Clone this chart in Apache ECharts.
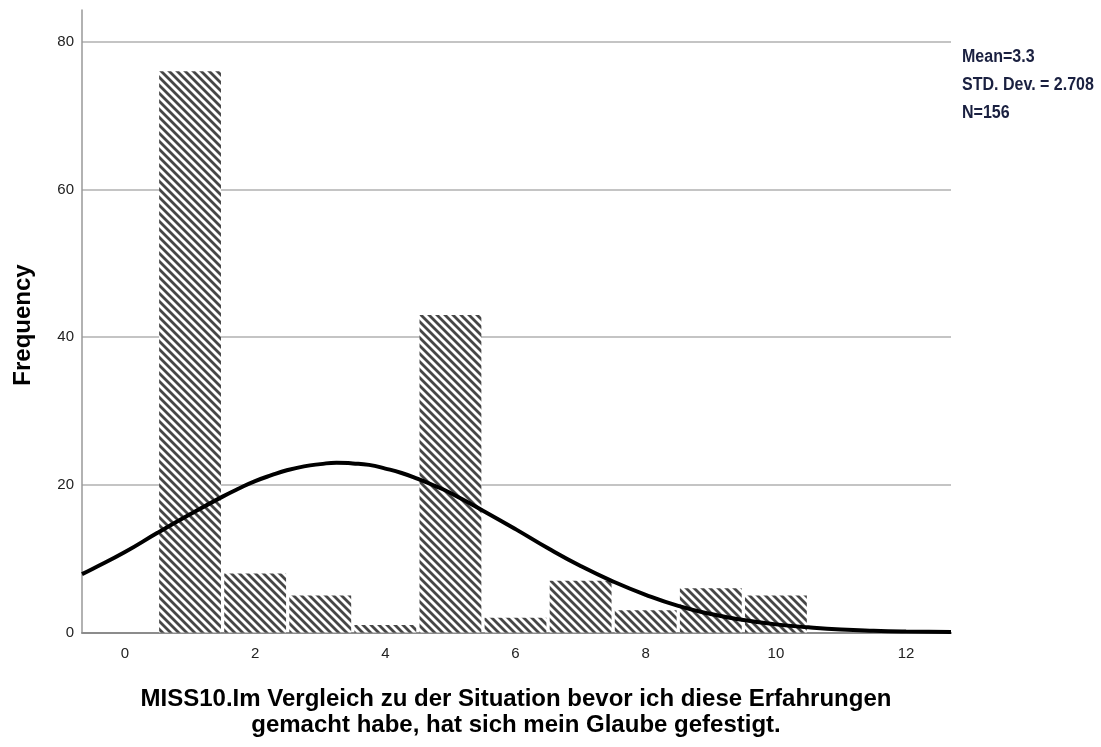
<!DOCTYPE html>
<html>
<head>
<meta charset="utf-8">
<script src="https://cdn.jsdelivr.net/npm/echarts@6/dist/echarts.min.js"></script>
<style>html,body{margin:0;padding:0;background:#fff;}#c{width:1101px;height:747px;}</style>
</head>
<body>
<div id="c"></div>
<script>
// Histogram bins (scale value) and frequencies
const binCenters = [1, 2, 3, 4, 5, 6, 7, 8, 9, 10];
const frequencies = [76, 8, 5, 1, 43, 2, 7, 3, 6, 5];
// Normal curve
const curveX = [-0.66, -0.5, 0, 0.5, 1, 1.5, 1.75, 2, 2.25, 2.5, 2.75, 3, 3.25, 3.5, 3.75, 4, 4.25, 4.5, 4.75, 5, 5.5, 6, 6.5, 7, 7.5, 8, 8.5, 9, 9.5, 10, 10.5, 11, 11.5, 12, 12.69];
const curveY = [7.9, 8.6, 10.9, 13.5, 16.0, 18.4, 19.5, 20.5, 21.3, 22.0, 22.5, 22.8, 23.0, 22.9, 22.7, 22.2, 21.6, 20.8, 19.9, 18.9, 16.5, 14.0, 11.4, 9.0, 6.9, 5.1, 3.6, 2.5, 1.7, 1.1, 0.7, 0.4, 0.23, 0.13, 0.06];
const xTickLabels = [0, 2, 4, 6, 8, 10, 12];
const yTickLabels = [0, 20, 40, 60, 80];
const statsLines = ['Mean=3.3', 'STD. Dev. = 2.708', 'N=156'];
const xAxisTitleLines = ['MISS10.Im Vergleich zu der Situation bevor ich diese Erfahrungen', 'gemacht habe, hat sich mein Glaube gefestigt.'];
const yAxisTitle = 'Frequency';

// hatch pattern
const tile = document.createElement('canvas');
const T = 8;
tile.width = T; tile.height = T;
const tctx = tile.getContext('2d');
const img = tctx.createImageData(T, T);
for (let y = 0; y < T; y++) {
  for (let x = 0; x < T; x++) {
    const m = ((x - y) % T + T) % T;
    let v = 255;
    if (m >= 1 && m <= 3) v = 70;
    else if (m === 0 || m === 4) v = 165;
    const i = (y * T + x) * 4;
    img.data[i] = v; img.data[i+1] = v; img.data[i+2] = v; img.data[i+3] = 255;
  }
}
tctx.putImageData(img, 0, 0);
const hatch = { image: tile, repeat: 'repeat' };

const barData = binCenters.map((c, i) => [c, frequencies[i]]);
const curveData = curveX.map((x, i) => [x, curveY[i]]);
const halfW = 0.475;

const statFont = 'bold 18px "Liberation Sans", Arial';
const statColor = '#1a2040';
const titleFont = 'bold 24px "Liberation Sans", Arial';

const chart = echarts.init(document.getElementById('c'), null, { renderer: 'canvas' });
chart.setOption({
  animation: false,
  backgroundColor: '#fff',
  grid: { left: 82, right: 150, top: 10, bottom: 114.5, containLabel: false },
  xAxis: {
    type: 'value', min: -0.66, max: 12.69,
    axisLine: { show: true, onZero: false, lineStyle: { color: '#8c8c8c', width: 2 } },
    axisTick: { show: false },
    splitLine: { show: false },
    axisLabel: { customValues: xTickLabels, color: '#222', fontSize: 15, fontFamily: 'Liberation Sans, Arial', margin: 14 }
  },
  yAxis: {
    type: 'value', min: 0, max: 84.3, interval: 20,
    axisLine: { show: true, onZero: false, lineStyle: { color: '#999', width: 1.5 } },
    axisTick: { show: false },
    splitLine: { show: true, showMaxLine: false, lineStyle: { color: '#c4c4c4', width: 2 } },
    axisLabel: { customValues: yTickLabels, color: '#222', fontSize: 15, fontFamily: 'Liberation Sans, Arial', margin: 8 }
  },
  graphic: [
    { type: 'text', x: 23, y: 325, rotation: Math.PI / 2,
      style: { text: yAxisTitle, font: titleFont, fill: '#000', textAlign: 'center', textVerticalAlign: 'middle' } },
    { type: 'text', x: 516, y: 699,
      style: { text: xAxisTitleLines[0], font: titleFont, fill: '#000', textAlign: 'center', textVerticalAlign: 'middle' } },
    { type: 'text', x: 516, y: 725,
      style: { text: xAxisTitleLines[1], font: titleFont, fill: '#000', textAlign: 'center', textVerticalAlign: 'middle' } },
    { type: 'text', x: 962, y: 57, scaleX: 0.89,
      style: { text: statsLines[0], font: statFont, fill: statColor, textVerticalAlign: 'middle' } },
    { type: 'text', x: 962, y: 85, scaleX: 0.89,
      style: { text: statsLines[1], font: statFont, fill: statColor, textVerticalAlign: 'middle' } },
    { type: 'text', x: 962, y: 113, scaleX: 0.89,
      style: { text: statsLines[2], font: statFont, fill: statColor, textVerticalAlign: 'middle' } }
  ],
  series: [
    {
      type: 'custom',
      data: barData,
      z: 2,
      renderItem: function (params, api) {
        const x = api.value(0), y = api.value(1);
        const p0 = api.coord([x - halfW, y]);
        const p1 = api.coord([x + halfW, 0]);
        return { type: 'rect', shape: { x: p0[0], y: p0[1], width: p1[0] - p0[0], height: p1[1] - p0[1] }, style: { fill: hatch } };
      }
    },
    {
      type: 'line', data: curveData, smooth: 0.5, symbol: 'none', z: 3,
      lineStyle: { color: '#000', width: 4 }
    }
  ]
});
</script>
</body>
</html>
